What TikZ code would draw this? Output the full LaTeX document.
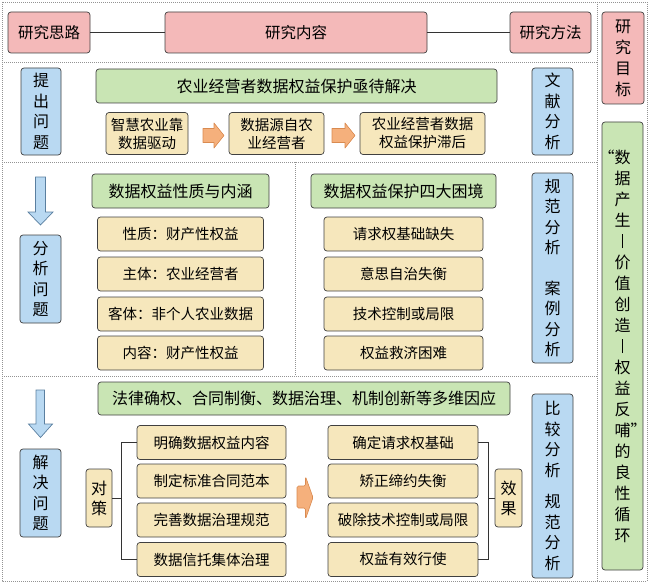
\documentclass[tikz,border=0pt]{standalone}
\usepackage{fontspec}
\setmainfont{Noto Sans CJK SC}
\definecolor{pinkc}{HTML}{F4B9B9}
\definecolor{greenc}{HTML}{C9E5B4}
\definecolor{bluec}{HTML}{B9D9F2}
\definecolor{yellowc}{HTML}{F6E7BC}
\definecolor{orangec}{HTML}{F5B07C}
\definecolor{orangedk}{HTML}{D98A50}
\definecolor{bluedk}{HTML}{5A7FA0}
\tikzset{
 bx/.style={draw=black!75, line width=0.7pt, rounded corners=3pt, inner sep=0pt, align=center},
 pinkbx/.style={bx, fill=pinkc, font=\fontsize{15.5}{18}\selectfont},
 greenbx/.style={bx, fill=greenc, font=\fontsize{16}{19}\selectfont},
 yellowbx/.style={bx, fill=yellowc, font=\fontsize{14.5}{18}\selectfont},
 bluebx/.style={bx, fill=bluec, font=\fontsize{16}{20.5}\selectfont},
 vgreen/.style={bx, fill=greenc, font=\fontsize{16}{21}\selectfont},
 frameline/.style={draw=gray!85, line width=0.8pt, dash pattern=on 1pt off 1pt},
 conn/.style={draw=black!80, line width=0.7pt},
 blockarr/.style={fill=orangec, draw=orangedk, line width=0.6pt, line join=round},
 downarr/.style={fill=bluec, draw=bluedk, line width=0.7pt, line join=miter},
}
\newcommand{\vbar}{\rule[-1pt]{0.7pt}{14pt}}
\begin{document}
\begin{tikzpicture}[x=1pt,y=-1pt]
\useasboundingbox (0,0) rectangle (650,583);
% frames
\draw[frameline] (2,2) rectangle (647,581);
\draw[frameline] (597,2) -- (597,581);
\draw[frameline] (2,62) -- (597,62);
\draw[frameline] (2,162) -- (597,162);
\draw[frameline] (2,376) -- (597,376);
\draw[frameline] (295,162) -- (295,376);
% header
\node[pinkbx, minimum width=82, minimum height=41] (sl) at (49,32.5) {研究思路};
\node[pinkbx, minimum width=262, minimum height=41] (nr) at (296,32.5) {研究内容};
\node[pinkbx, minimum width=81, minimum height=41] (ff) at (550.5,32.5) {研究方法};
\draw[conn] (sl) -- (nr);
\draw[conn] (nr) -- (ff);
\node[pinkbx, font=\fontsize{16}{21}\selectfont, minimum width=42, minimum height=92] (mb) at (623,58) {研\\究\\目\\标};
\node[vgreen, minimum width=41, minimum height=448] (xh) at (622.5,346)
 {\llap{“}数\\据\\产\\生\\\vbar\\价\\值\\创\\造\\\vbar\\权\\益\\反\\哺\rlap{”}\\的\\良\\性\\循\\环};
% section 1
\node[bluebx, minimum width=40, minimum height=87] (tc) at (41,111.5) {提\\出\\问\\题};
\node[greenbx, minimum width=401, minimum height=34] (g1) at (296.5,86) {农业经营者数据权益保护亟待解决};
\node[yellowbx, minimum width=82, minimum height=42] (y1) at (147,133.5) {智慧农业靠\\数据驱动};
\node[yellowbx, minimum width=95, minimum height=42] (y2) at (276.5,133.5) {数据源自农\\业经营者};
\node[yellowbx, minimum width=125, minimum height=42] (y3) at (422.5,133.5) {农业经营者数据\\权益保护滞后};
\node[bluebx, minimum width=41, minimum height=87] (wx) at (552.5,111.5) {文\\献\\分\\析};
\draw[blockarr] (203,128.5) -- (214,128.5) -- (214,123) -- (224,135.5) -- (214,148) -- (214,142.5) -- (203,142.5) -- cycle;
\draw[blockarr] (332,128.5) -- (345,128.5) -- (345,123) -- (355,135.5) -- (345,148) -- (345,142.5) -- (332,142.5) -- cycle;
% section 2
\draw[downarr] (35.5,177) -- (45.5,177) -- (45.5,212) -- (53,212) -- (40.5,225) -- (28,212) -- (35.5,212) -- cycle;
\node[bluebx, minimum width=41, minimum height=88] (fx) at (40.5,279) {分\\析\\问\\题};
\node[greenbx, minimum width=177, minimum height=34] (g2) at (180.5,191) {数据权益性质与内涵};
\node[yellowbx, minimum width=166, minimum height=34] (l1) at (180.5,234) {性质：财产性权益};
\node[yellowbx, minimum width=166, minimum height=34] (l2) at (180.5,274) {主体：农业经营者};
\node[yellowbx, minimum width=166, minimum height=34] (l3) at (180.5,314) {客体：非个人农业数据};
\node[yellowbx, minimum width=166, minimum height=34] (l4) at (180.5,353) {内容：财产性权益};
\node[greenbx, minimum width=185, minimum height=34] (g3) at (403.5,191) {数据权益保护四大困境};
\node[yellowbx, minimum width=159, minimum height=34] (r1) at (403.5,234) {请求权基础缺失};
\node[yellowbx, minimum width=159, minimum height=34] (r2) at (403.5,274) {意思自治失衡};
\node[yellowbx, minimum width=159, minimum height=34] (r3) at (403.5,314) {技术控制或局限};
\node[yellowbx, minimum width=159, minimum height=34] (r4) at (403.5,353) {权益救济困难};
\node[bluebx, minimum width=41, minimum height=190] (gf) at (552.5,268) {规\\范\\分\\析\\[20pt]案\\例\\分\\析};
% section 3
\draw[downarr] (36,390) -- (44.5,390) -- (44.5,424) -- (52.5,424) -- (40.5,437.5) -- (28.5,424) -- (36,424) -- cycle;
\node[bluebx, minimum width=41, minimum height=88] (jj) at (40.5,493) {解\\决\\问\\题};
\node[greenbx, minimum width=412, minimum height=33] (g4) at (304,398.5) {法律确权、合同制衡、数据治理、机制创新等多维因应};
\node[yellowbx, font=\fontsize{16}{20}\selectfont, minimum width=26, minimum height=58] (dc) at (99,498) {对\\策};
\node[yellowbx, minimum width=149, minimum height=34] (s1) at (211.5,442.5) {明确数据权益内容};
\node[yellowbx, minimum width=149, minimum height=34] (s2) at (211.5,481) {制定标准合同范本};
\node[yellowbx, minimum width=149, minimum height=34] (s3) at (211.5,520) {完善数据治理规范};
\node[yellowbx, minimum width=149, minimum height=34] (s4) at (211.5,559.5) {数据信托集体治理};
\node[yellowbx, minimum width=150, minimum height=34] (e1) at (403,442.5) {确定请求权基础};
\node[yellowbx, minimum width=150, minimum height=34] (e2) at (403,481) {矫正缔约失衡};
\node[yellowbx, minimum width=150, minimum height=34] (e3) at (403,520) {破除技术控制或局限};
\node[yellowbx, minimum width=150, minimum height=34] (e4) at (403,559.5) {权益有效行使};
\node[yellowbx, font=\fontsize{16}{20}\selectfont, minimum width=27, minimum height=58] (xg) at (508.5,498) {效\\果};
\node[bluebx, minimum width=41, minimum height=184] (bj) at (552.5,486) {比\\较\\分\\析\\[11pt]规\\范\\分\\析};
\draw[blockarr, rounded corners=1.5pt] (297,486) -- (305.5,486) -- (305.5,476.5) -- (313,497.5) -- (305.5,519) -- (305.5,508) -- (297,508) -- cycle;
\draw[conn] (s1.west) -- ++(-15,0) coordinate (bt) -- (bt |- s4.west) -- (s4.west);
\draw[conn] (dc.east) -- (dc.east -| bt);
\draw[conn] (e1.east) -- ++(10,0) coordinate (rt) -- (rt |- e4.east) -- (e4.east);
\draw[conn] (xg.west) -- (xg.west -| rt);
\end{tikzpicture}
\end{document}
